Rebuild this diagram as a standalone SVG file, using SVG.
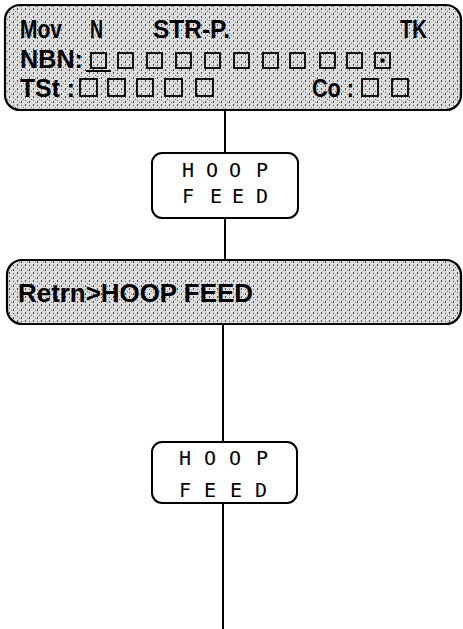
<svg xmlns="http://www.w3.org/2000/svg" width="463" height="629" viewBox="0 0 463 629">
<style>
.panel{fill:url(#stip);stroke:#000;stroke-width:2.2}
.key{fill:#fff;stroke:#000;stroke-width:2}
.lcd{font-family:"Liberation Sans",Arial,sans-serif;font-weight:bold;font-size:25px;fill:#000}
.kt{font-family:"DejaVu Sans Mono","Liberation Mono",monospace;font-size:20px;fill:#000;text-anchor:middle}
.sq{fill:none;stroke:#000;stroke-width:1.8}
.conn line{stroke:#000;stroke-width:2}
</style>
<defs>
<pattern id="stip" width="8" height="8" patternUnits="userSpaceOnUse">
<rect width="8" height="8" fill="#dedede"/>
<rect x="1" y="0" width="1" height="2" fill="#444"/>
<rect x="1" y="4" width="1" height="1" fill="#666"/>
<rect x="5" y="1" width="1" height="1" fill="#555"/>
<rect x="5" y="5" width="1" height="2" fill="#444"/>
<rect x="3" y="6" width="1" height="1" fill="#777"/>
<rect x="7" y="3" width="1" height="1" fill="#666"/>
</pattern>
</defs>
<g class="conn">
<line x1="225" y1="110" x2="225" y2="153"/>
<line x1="225" y1="218" x2="225" y2="260"/>
<line x1="223" y1="324" x2="223" y2="442"/>
<line x1="223" y1="503" x2="223" y2="629"/>
</g>
<g id="display1">
<rect class="panel" x="5" y="5" width="456" height="105" rx="15"/>
<text class="lcd" x="20" y="38" textLength="42" lengthAdjust="spacingAndGlyphs">Mov</text>
<text class="lcd" x="90" y="38" textLength="13" lengthAdjust="spacingAndGlyphs">N</text>
<text class="lcd" x="153" y="38" textLength="77" lengthAdjust="spacingAndGlyphs">STR-P.</text>
<text class="lcd" x="400" y="38" textLength="27" lengthAdjust="spacingAndGlyphs">TK</text>
<text class="lcd" x="20" y="68" textLength="63" lengthAdjust="spacingAndGlyphs">NBN:</text>
<g class="sq">
<rect x="91" y="53" width="15" height="15"/>
<rect x="118" y="53" width="15" height="15"/>
<rect x="147" y="53" width="15" height="15"/>
<rect x="176" y="53" width="15" height="15"/>
<rect x="205" y="53" width="15" height="15"/>
<rect x="234" y="53" width="15" height="15"/>
<rect x="263" y="53" width="15" height="15"/>
<rect x="290" y="53" width="15" height="15"/>
<rect x="320" y="53" width="15" height="15"/>
<rect x="347" y="53" width="15" height="15"/>
<rect x="375" y="53" width="15" height="15"/>
</g>
<rect x="380.5" y="58.5" width="4" height="4" fill="#000"/>
<line x1="86" y1="71" x2="111" y2="71" stroke="#000" stroke-width="2"/>
<text class="lcd" x="20" y="97" textLength="55" lengthAdjust="spacingAndGlyphs">TSt :</text>
<g class="sq">
<rect x="80" y="79" width="17" height="17"/>
<rect x="108" y="79" width="17" height="17"/>
<rect x="137" y="79" width="16" height="17"/>
<rect x="165" y="79" width="17" height="17"/>
<rect x="196" y="79" width="17" height="17"/>
<rect x="362" y="79" width="16" height="17"/>
<rect x="392" y="79" width="16" height="17"/>
</g>
<text class="lcd" x="312" y="97" textLength="42" lengthAdjust="spacingAndGlyphs">Co :</text>
</g>
<g id="key1">
<rect class="key" x="152" y="153" width="146" height="65" rx="10"/>
<text class="kt" x="188 212 235 262" y="177">HOOP</text>
<text class="kt" x="188 216 238 262" y="203">FEED</text>
</g>
<g id="display2">
<rect class="panel" x="7" y="260" width="454" height="64" rx="15"/>
<text class="lcd" x="18" y="302" textLength="235" lengthAdjust="spacingAndGlyphs">Retrn&gt;HOOP FEED</text>
</g>
<g id="key2">
<rect class="key" x="152" y="442" width="145" height="61" rx="10"/>
<text class="kt" x="185 210 235 262" y="465">HOOP</text>
<text class="kt" x="185 210 236 261" y="497">FEED</text>
</g>
</svg>
